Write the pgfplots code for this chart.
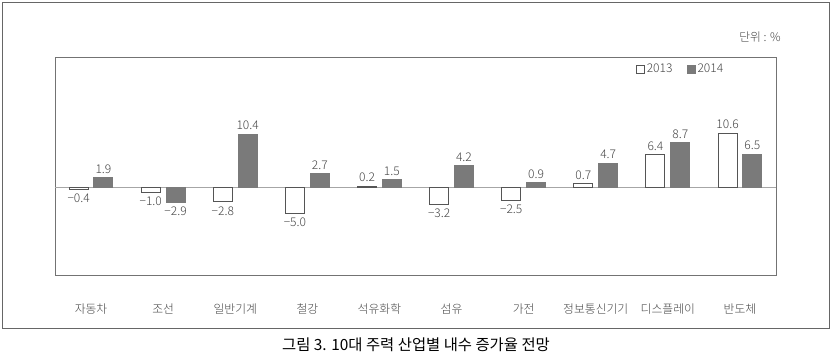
\documentclass[border=0pt]{standalone}
\usepackage{pgfplots}
\pgfplotsset{compat=1.18}
\usepackage{fontspec}
\setmainfont{Noto Sans CJK KR Light}
\newfontfamily\capfont{Noto Sans CJK KR}
\definecolor{barA}{HTML}{7A7A7A}
\definecolor{edgeA}{HTML}{555555}
\definecolor{txt}{HTML}{444444}
\begin{document}
\begin{tikzpicture}
\path[use as bounding box] (-27.5pt,-42pt) rectangle (389pt,137.5pt);
\draw[color=gray!80!black, line width=0.5pt] (-26pt,-26.5pt) rectangle (387pt,136pt);
\begin{axis}[
  at={(0,0)}, anchor=south west,
  scale only axis, width=360.5pt, height=108.5pt,
  xmin=-0.5, xmax=9.5, ymin=-17, ymax=25.2,
  axis line style={color=gray!90!black, line width=0.5pt},
  xtick=data,
  xticklabels={자동차,조선,일반기계,철강,석유화학,섬유,가전,정보통신기기,디스플레이,반도체},
  xticklabel style={font=\fontsize{5.9}{7}\selectfont, text=txt, yshift=-6.5pt},
  xtick style={draw=none},
  ytick=\empty,
  ybar, bar width=9.5pt,
  clip=false,
  nodes near coords,
  point meta=explicit symbolic,
  visualization depends on={rawy \as \rawy},
  every node near coord/.append style={font=\fontsize{6}{7}\selectfont, text=txt, inner sep=2pt,
     /utils/exec={\ifdim\rawy pt<0pt \gdef\myanchor{north}\else\gdef\myanchor{south}\fi},
     anchor=\myanchor},
  extra y ticks={0},
  extra y tick labels={},
  extra y tick style={grid=major, major grid style={color=gray!70, line width=0.8pt}, tick style={draw=none}},
  legend style={draw=none, fill=none, at={(0.805,0.985)}, anchor=north west, legend columns=2,
    font=\fontsize{6}{7}\selectfont, text=txt, /tikz/every even column/.append style={column sep=6pt},
    inner sep=0pt, nodes={inner sep=1pt}},
  legend image code/.code={\draw[#1, line width=0.5pt] (0pt,-2pt) rectangle (4pt,2pt);},
]
\addplot[bar shift=-6.2pt, fill=white, draw=edgeA, line width=0.5pt] coordinates {
 (0,-0.4) [−0.4] (1,-1.0) [−1.0] (2,-2.8) [−2.8] (3,-5.0) [−5.0] (4,0.2) [0.2]
 (5,-3.2) [−3.2] (6,-2.5) [−2.5] (7,0.7) [0.7] (8,6.4) [6.4] (9,10.6) [10.6]};
\addplot[bar shift=6.2pt, fill=barA, draw=barA, line width=0.5pt] coordinates {
 (0,1.9) [1.9] (1,-2.9) [−2.9] (2,10.4) [10.4] (3,2.7) [2.7] (4,1.5) [1.5]
 (5,4.2) [4.2] (6,0.9) [0.9] (7,4.7) [4.7] (8,8.7) [8.7] (9,6.5) [6.5]};
\legend{2013,2014}
\end{axis}
\node[anchor=east, inner sep=0pt, font=\fontsize{5.9}{7}\selectfont, text=txt] at (363pt,119pt) {단위 : \%};
\node[font=\capfont\fontsize{7.7}{9}\selectfont] at (180.5pt,-35pt) {그림 3. 10대 주력 산업별 내수 증가율 전망};
\end{tikzpicture}
\end{document}
